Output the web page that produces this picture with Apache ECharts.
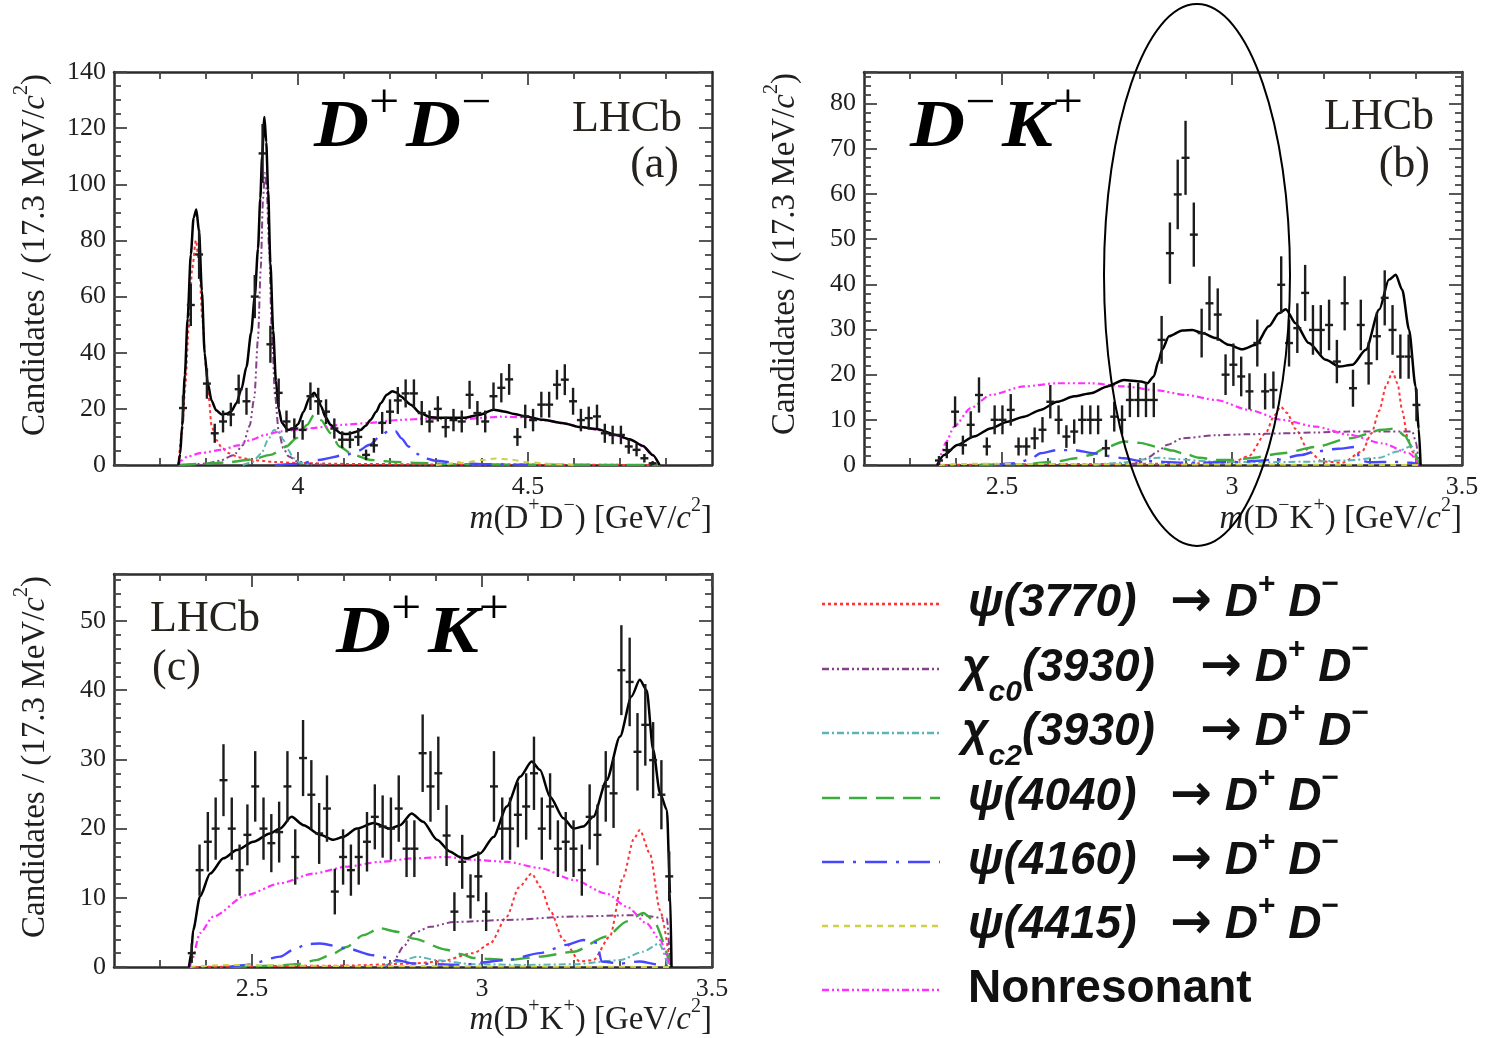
<!DOCTYPE html>
<html>
<head>
<meta charset="utf-8">
<script src="https://cdn.jsdelivr.net/npm/echarts@6/dist/echarts.min.js"></script>
<style>
  html, body { margin: 0; padding: 0; background: #fff; }
  #chart { width: 1499px; height: 1038px; }
</style>
</head>
<body>
<div id="chart"></div>
<script>
// ---- panel (a): m(D+D-) ----
const massA = [3.750, 3.767, 3.785, 3.802, 3.819, 3.837, 3.854, 3.871, 3.888, 3.906, 3.923, 3.940, 3.958, 3.975, 3.992, 4.010, 4.027, 4.044, 4.061, 4.079, 4.096, 4.113, 4.131, 4.148, 4.165, 4.183, 4.200, 4.217, 4.234, 4.252, 4.269, 4.286, 4.304, 4.321, 4.338, 4.356, 4.373, 4.390, 4.407, 4.425, 4.442, 4.459, 4.477, 4.494, 4.511, 4.529, 4.546, 4.563, 4.580, 4.598, 4.615, 4.632, 4.650, 4.667, 4.684, 4.702, 4.719, 4.736, 4.753, 4.771];
const countsA = [20.3, 57, 75, 29, 11.3, 15.5, 18, 27, 22.7, 60, 111, 43, 25.7, 15.5, 13, 12.5, 24.5, 22.7, 19, 13, 9, 9, 10, 3.6, 7, 15, 19, 23, 25.5, 25.5, 18.5, 15.5, 20, 13.5, 16, 15.5, 25, 18.5, 15.5, 24.5, 27.5, 30.5, 10, 17.3, 16, 21.5, 21.5, 28.6, 30.4, 22.7, 16, 16.7, 17.3, 11.3, 10.7, 10.7, 6.6, 5.4, 2.4, 0.6];
const errA = [4.5, 7.5, 8.7, 5.4, 3.4, 3.9, 4.2, 5.2, 4.8, 7.7, 10.5, 6.6, 5.1, 3.9, 3.6, 3.5, 4.9, 4.8, 4.4, 3.6, 3, 3, 3.2, 1.9, 2.6, 3.9, 4.4, 4.8, 5, 5, 4.3, 3.9, 4.5, 3.7, 4, 3.9, 5, 4.3, 3.9, 4.9, 5.2, 5.5, 3.2, 4.2, 4, 4.6, 4.6, 5.3, 5.5, 4.8, 4, 4.1, 4.2, 3.4, 3.3, 3.3, 2.6, 2.3, 1.5, 0.8];
const totalA = [[3.740,0],[3.744,4],[3.748,14],[3.754,32],[3.760,52],[3.767,75],[3.773,88],[3.779,91],[3.785,83],[3.791,62],[3.797,40],[3.804,29],[3.812,23],[3.822,19.5],[3.834,18],[3.845,18.3],[3.855,19.1],[3.866,22],[3.877,27],[3.888,35],[3.898,47],[3.906,60],[3.913,77],[3.918,95],[3.922,110],[3.927,124],[3.931,115],[3.935,98],[3.940,72],[3.946,48],[3.952,30],[3.958,20],[3.965,15],[3.978,12.5],[3.990,13],[4.000,14.5],[4.012,19],[4.025,24],[4.035,25.7],[4.043,24],[4.050,21],[4.060,17],[4.071,14.3],[4.082,12.5],[4.093,11.3],[4.105,11],[4.115,11.3],[4.125,11.8],[4.136,12.5],[4.147,14],[4.158,16.1],[4.170,19],[4.180,22],[4.193,25],[4.205,26.3],[4.214,25.8],[4.223,24.5],[4.245,21.5],[4.266,18.5],[4.288,17],[4.310,16.8],[4.335,16.8],[4.360,16.8],[4.396,17.9],[4.425,19.7],[4.447,19.1],[4.470,18.2],[4.490,17.5],[4.533,16.1],[4.577,14.9],[4.613,13.5],[4.649,12.8],[4.692,10.7],[4.721,9.2],[4.750,6.8],[4.771,3.6],[4.786,0]];
const redA = [[3.740,0],[3.748,12],[3.755,28],[3.762,48],[3.770,70],[3.778,80],[3.785,72],[3.792,52],[3.800,35],[3.806,24],[3.812,14],[3.822,9],[3.835,6],[3.850,4.2],[3.870,2.8],[3.900,1.8],[3.950,1.1],[4.000,0.7],[4.100,0.4],[4.300,0.2],[4.786,0]];
const purpleA = [[3.760,0],[3.800,0.5],[3.830,1.5],[3.860,3.5],[3.880,7],[3.895,14],[3.905,24],[3.913,45],[3.919,70],[3.924,95],[3.928,104],[3.932,98],[3.937,78],[3.943,48],[3.950,25],[3.958,12],[3.968,6],[3.980,3],[4.000,1.2],[4.030,0.4],[4.060,0]];
const tealA = [[3.880,0],[3.900,1],[3.920,4],[3.935,9],[3.948,12.5],[3.958,12],[3.968,9],[3.978,5.5],[3.990,2.5],[4.005,0.8],[4.030,0]];
const greenA = [[3.740,0],[3.800,0.5],[3.850,1],[3.900,2],[3.940,3.6],[3.975,6.6],[3.996,9.5],[4.020,14.3],[4.035,17.9],[4.050,16],[4.071,11.3],[4.090,6.6],[4.120,3.6],[4.158,1.8],[4.200,1.2],[4.260,0.7],[4.350,0.3],[4.500,0.1],[4.786,0]];
const blueA = [[3.950,0],[4.000,0.4],[4.045,1.8],[4.104,3.6],[4.130,5],[4.156,7.2],[4.180,10.5],[4.200,12.5],[4.212,12],[4.225,9.5],[4.240,6.6],[4.258,4],[4.275,2.4],[4.300,1.5],[4.340,0.8],[4.400,0.3],[4.500,0]];
const yellowA = [[4.300,0],[4.360,0.8],[4.400,1.8],[4.430,2.3],[4.460,2],[4.500,1],[4.550,0.4],[4.600,0]];
const magentaA = [[3.740,0],[3.745,1.5],[3.760,3],[3.790,4.3],[3.834,5.4],[3.870,7],[3.898,9],[3.930,10.8],[3.963,12],[4.000,12.6],[4.028,13.1],[4.060,13.6],[4.093,14.3],[4.158,15],[4.224,16.1],[4.281,16.5],[4.330,16.3],[4.360,16.3],[4.400,16.8],[4.440,17.2],[4.490,17],[4.533,16],[4.577,14.9],[4.613,13.5],[4.649,12.6],[4.692,10.5],[4.721,9],[4.750,6.6],[4.771,3.5],[4.786,0]];

// ---- panel (b): m(D-K+) ----
const massB = [2.363, 2.380, 2.398, 2.415, 2.432, 2.450, 2.467, 2.484, 2.501, 2.519, 2.536, 2.553, 2.571, 2.588, 2.605, 2.623, 2.640, 2.657, 2.674, 2.692, 2.709, 2.726, 2.744, 2.761, 2.778, 2.796, 2.813, 2.830, 2.847, 2.865, 2.882, 2.899, 2.917, 2.934, 2.951, 2.969, 2.986, 3.003, 3.020, 3.038, 3.055, 3.072, 3.090, 3.107, 3.124, 3.142, 3.159, 3.176, 3.193, 3.211, 3.228, 3.245, 3.263, 3.280, 3.297, 3.315, 3.332, 3.349, 3.366, 3.384, 3.401];
const countsB = [1, 3.3, 11.8, 4.4, 8.9, 15.5, 4.1, 10, 10, 12.2, 4.1, 4.1, 5.9, 7.8, 14, 10, 6.3, 7.4, 10, 10, 10, 3.7, 10.7, 10, 14.4, 14.4, 14.4, 14.4, 27.7, 46.9, 59.9, 68, 51, 29.2, 35.8, 33.3, 20, 22.2, 19.6, 16.3, 27, 16.3, 16.6, 39.9, 27, 30.3, 38.1, 29.9, 29.9, 31, 22.9, 35.8, 17, 31, 22.5, 28.5, 37, 29.9, 24, 24, 13.3];
const errB = [1, 1.8, 3.4, 2.1, 3, 3.9, 2, 3.2, 3.2, 3.5, 2, 2, 2.4, 2.8, 3.7, 3.2, 2.5, 2.7, 3.2, 3.2, 3.2, 1.9, 3.3, 3.2, 3.8, 3.8, 3.8, 3.8, 5.3, 6.8, 7.7, 8.2, 7.1, 5.4, 6, 5.8, 4.5, 4.7, 4.4, 4, 5.2, 4, 4.1, 6.3, 5.2, 5.5, 6.2, 5.5, 5.5, 5.6, 4.8, 6, 4.1, 5.6, 4.7, 5.3, 6.1, 5.5, 4.9, 4.9, 3.6];
const totalB = [[2.359,0],[2.374,2.2],[2.403,4.4],[2.439,6.3],[2.475,8.1],[2.512,9.6],[2.548,10.7],[2.584,12.2],[2.620,14],[2.657,15.2],[2.693,15.9],[2.729,17.4],[2.765,18.8],[2.802,18.5],[2.816,18.1],[2.830,19.6],[2.840,23],[2.848,25.5],[2.863,28.5],[2.892,29.8],[2.914,29.9],[2.935,29.2],[2.965,28.1],[2.993,26.6],[3.022,25.6],[3.052,26.6],[3.080,30.7],[3.102,33.6],[3.117,34.5],[3.138,31.4],[3.167,27],[3.204,23.3],[3.233,21.8],[3.262,22.2],[3.291,25.5],[3.320,34.4],[3.341,41],[3.356,42.1],[3.370,38.8],[3.385,29.9],[3.399,17.4],[3.406,8],[3.410,0]];
const redB = [[2.363,0],[2.600,0.2],[2.900,0.3],[3.001,0.6],[3.037,2],[3.073,7],[3.092,11],[3.106,12.9],[3.120,11.5],[3.138,8],[3.167,3],[3.196,0.8],[3.240,0.5],[3.283,3],[3.303,7],[3.320,12],[3.335,17.5],[3.349,20.7],[3.360,18],[3.370,12],[3.382,6],[3.392,3],[3.405,0]];
const purpleB = [[2.780,0],[2.800,0.6],[2.820,1.8],[2.838,3],[2.860,4.5],[2.892,5.9],[2.965,6.6],[3.037,6.8],[3.109,7],[3.182,7.2],[3.254,7.4],[3.330,7.4],[3.392,7.4],[3.400,5],[3.406,0]];
const tealB = [[2.700,0],[2.760,0.5],[2.800,1.2],[2.840,1.6],[2.880,1.3],[2.950,0.8],[3.050,0.6],[3.150,0.7],[3.250,1],[3.320,1.6],[3.360,3],[3.390,4.2],[3.405,0]];
const greenB = [[2.450,0],[2.550,0.2],[2.620,0.8],[2.660,1.5],[2.693,2.2],[2.729,4],[2.765,5.2],[2.800,4.9],[2.838,4],[2.870,3.2],[2.893,2.6],[2.930,1.6],[2.965,1.1],[3.000,1.1],[3.037,1.5],[3.110,2.6],[3.182,4],[3.255,5.9],[3.327,7.8],[3.356,8.1],[3.375,6.5],[3.392,4],[3.406,0.3]];
const blueB = [[2.480,0],[2.530,0.4],[2.560,1.2],[2.584,2.6],[2.620,3.3],[2.657,3.3],[2.700,2.6],[2.730,2],[2.765,1.5],[2.800,0.9],[2.900,0.5],[3.000,0.6],[3.100,1.2],[3.150,2.2],[3.182,3],[3.230,3.6],[3.270,4],[3.278,1],[3.300,0.6],[3.350,0.7],[3.390,0.5],[3.406,0]];
const yellowB = [[2.363,0],[2.450,0.3],[2.600,0.2],[3.000,0.1],[3.406,0]];
const magentaB = [[2.363,0],[2.368,2.5],[2.378,5],[2.396,8.5],[2.432,12.6],[2.475,15.5],[2.548,17.4],[2.620,18.1],[2.693,18.1],[2.765,17.4],[2.838,16.5],[2.900,15.5],[2.965,14.4],[3.037,12.2],[3.109,10],[3.182,8.5],[3.254,6.7],[3.327,4.8],[3.385,2.6],[3.407,0]];

// ---- panel (c): m(D+K+) ----
const massC = [2.369, 2.386, 2.404, 2.421, 2.438, 2.456, 2.473, 2.490, 2.507, 2.525, 2.542, 2.559, 2.577, 2.594, 2.611, 2.629, 2.646, 2.663, 2.680, 2.698, 2.715, 2.732, 2.750, 2.767, 2.784, 2.802, 2.819, 2.836, 2.853, 2.871, 2.888, 2.905, 2.923, 2.940, 2.957, 2.975, 2.992, 3.009, 3.026, 3.044, 3.061, 3.078, 3.096, 3.113, 3.130, 3.148, 3.165, 3.182, 3.199, 3.217, 3.234, 3.251, 3.269, 3.286, 3.303, 3.321, 3.338, 3.355, 3.372, 3.390, 3.407];
const countsC = [2, 14, 18.1, 20, 27, 20, 14, 19.1, 26.1, 20, 17.9, 19.5, 26.1, 15.9, 30.2, 24.9, 19.3, 22.9, 10.9, 15.9, 14, 15.9, 18.1, 21.7, 20.3, 20, 22.9, 17.1, 17.1, 30.9, 26.1, 28, 19, 8, 15.2, 10.2, 13.1, 8, 26.1, 20, 20, 22, 23.2, 28, 20, 23.2, 17.1, 18.1, 17.1, 14, 21.7, 19.1, 26.1, 25.1, 42.9, 41.2, 31.1, 35, 29.9, 24.9, 13.1];
const errC = [1.4, 3.7, 4.3, 4.5, 5.2, 4.5, 3.7, 4.4, 5.1, 4.5, 4.2, 4.4, 5.1, 4, 5.5, 5, 4.4, 4.8, 3.3, 4, 3.7, 4, 4.3, 4.7, 4.5, 4.5, 4.8, 4.1, 4.1, 5.6, 5.1, 5.3, 4.4, 2.8, 3.9, 3.2, 3.6, 2.8, 5.1, 4.5, 4.5, 4.7, 4.8, 5.3, 4.5, 4.8, 4.1, 4.3, 4.1, 3.7, 4.7, 4.4, 5.1, 5, 6.5, 6.4, 5.6, 5.9, 5.5, 5, 3.6];
const totalC = [[2.363,0],[2.368,2],[2.372,5.3],[2.387,10.2],[2.409,13.5],[2.438,15.7],[2.467,16.9],[2.503,18.1],[2.539,19.3],[2.561,20],[2.586,21.7],[2.612,20.5],[2.648,19.1],[2.677,18.4],[2.698,18.8],[2.728,20],[2.764,20.8],[2.800,20],[2.822,20.5],[2.847,22.2],[2.872,21],[2.902,18.4],[2.930,16.7],[2.952,15.9],[2.967,15.7],[2.996,16.4],[3.025,18.8],[3.054,23.2],[3.083,27.5],[3.108,29.7],[3.126,28.5],[3.148,24.6],[3.177,21.5],[3.199,20],[3.220,20.3],[3.242,21.7],[3.271,27],[3.300,33.3],[3.325,39.1],[3.343,41.5],[3.358,40],[3.372,31.4],[3.387,25.1],[3.402,22.7],[3.409,10.6],[3.412,0]];
const redC = [[2.365,0],[2.700,0.2],[2.850,0.5],[2.909,0.8],[2.981,2],[3.018,3.4],[3.054,7.3],[3.080,11.5],[3.108,13.5],[3.128,11.5],[3.148,8.2],[3.177,3.9],[3.213,0.8],[3.242,1],[3.278,4.4],[3.307,13],[3.330,18.5],[3.343,19.8],[3.365,16.4],[3.387,8.2],[3.409,0.5]];
const purpleC = [[2.790,0],[2.807,0.8],[2.830,3],[2.851,4.9],[2.887,5.8],[2.938,6.5],[3.054,6.8],[3.199,7.3],[3.343,7.5],[3.402,7],[3.409,0]];
const tealC = [[2.780,0],[2.820,0.8],[2.860,1.5],[2.900,1],[2.980,0.4],[3.100,0.3],[3.200,0.4],[3.300,1],[3.350,2.2],[3.385,3.4],[3.405,0]];
const greenC = [[2.450,0],[2.550,0.2],[2.597,0.4],[2.640,1],[2.670,1.7],[2.706,2.9],[2.742,4.6],[2.778,5.6],[2.815,5.1],[2.851,4.1],[2.923,2.5],[2.952,1.9],[2.981,1.3],[3.054,1],[3.126,1.5],[3.199,2.2],[3.271,4.4],[3.315,6.6],[3.351,7.8],[3.372,6.8],[3.409,0.3]];
const blueC = [[2.450,0],[2.488,0.3],[2.561,1.5],[2.590,2.5],[2.619,3.3],[2.648,3.4],[2.706,2.7],[2.764,1.7],[2.815,1],[2.851,0.5],[2.950,0.3],[3.054,1],[3.126,2],[3.184,3.2],[3.220,3.9],[3.250,3.5],[3.260,0.8],[3.300,0.5],[3.343,0.8],[3.380,0.4],[3.409,0]];
const yellowC = [[2.365,0],[2.450,0.3],[2.550,0.2],[2.800,0.1],[3.409,0]];
const magentaC = [[2.365,0],[2.369,1],[2.387,4.9],[2.416,7.3],[2.488,10.4],[2.561,12.1],[2.633,13.5],[2.706,14.5],[2.778,15.2],[2.851,15.7],[2.923,15.9],[2.981,15.5],[3.054,15.2],[3.126,14.3],[3.199,12.6],[3.271,10.6],[3.315,8.7],[3.358,6.3],[3.387,3.9],[3.409,0.5],[3.412,0]];

// axis ticks
const xMajorA = [4, 4.5];
const xMinorA = [3.7, 3.8, 3.9, 4.1, 4.2, 4.3, 4.4, 4.6, 4.7, 4.8];
const xMajorBC = [2.5, 3, 3.5];
const xMinorBC = [2.3, 2.4, 2.6, 2.7, 2.8, 2.9, 3.1, 3.2, 3.3, 3.4];

// legend texts (order matches the component curves)
const legendLeft = ['{t|ψ(3770)}', '{t|χ}{b|c0}{t|(3930)}', '{t|χ}{b|c2}{t|(3930)}', '{t|ψ(4040)}', '{t|ψ(4160)}', '{t|ψ(4415)}', '{n|Nonresonant}'];

// styles of the components: ψ(3770), χc0, χc2, ψ(4040), ψ(4160), ψ(4415), nonresonant
const compColors = ['#ff3535', '#86408c', '#5db4b4', '#3cac3c', '#4646ff', '#d0d045', '#ff30ff'];
const compDash = [[3, 3], [7, 3, 2, 3, 2, 3], [7, 3, 2, 3], [18, 9], [22, 9, 3, 9], [6, 5], [7, 3, 2, 3, 2, 3]];
const compWidth = [2, 2, 2, 2.4, 2.4, 2, 2.2];

const serif = '"Liberation Serif", "Times New Roman", serif';
const sans = '"Liberation Sans", Arial, sans-serif';
const ink = '#1f1f1f';

const chart = echarts.init(document.getElementById('chart'));

const frameLine = { show: true, onZero: false, lineStyle: { color: '#2b2b2b', width: 2.5 } };
const noLine = { show: false, onZero: false };
const tickStyle = { color: '#454545', width: 1.8 };
const labelStyle = { color: ink, fontFamily: serif, fontSize: 26 };

function xAxesFor(g, min, max, major, minor) {
  const base = { type: 'value', gridIndex: g, min: min, max: max, splitLine: { show: false } };
  const big = { inside: true, length: 13, customValues: major, lineStyle: tickStyle };
  const small = { inside: true, length: 7, customValues: minor, lineStyle: tickStyle };
  return [
    Object.assign({}, base, { position: 'bottom', axisLine: frameLine, axisTick: big,
      axisLabel: Object.assign({ customValues: major, margin: 9 }, labelStyle) }),
    Object.assign({}, base, { position: 'bottom', axisLine: noLine, axisTick: small, axisLabel: { show: false } }),
    Object.assign({}, base, { position: 'top', axisLine: frameLine, axisTick: big, axisLabel: { show: false } }),
    Object.assign({}, base, { position: 'top', axisLine: noLine, axisTick: small, axisLabel: { show: false } })
  ];
}

function yAxesFor(g, max, interval, split, showMax) {
  const base = { type: 'value', gridIndex: g, min: 0, max: max, interval: interval, splitLine: { show: false } };
  const tick = { inside: true, length: 13, lineStyle: tickStyle };
  const minor = { show: true, splitNumber: split, length: 7, lineStyle: tickStyle };
  return [
    Object.assign({}, base, { position: 'left', axisLine: frameLine, axisTick: tick, minorTick: minor,
      axisLabel: Object.assign({ margin: 8, showMaxLabel: showMax }, labelStyle) }),
    Object.assign({}, base, { position: 'right', axisLine: frameLine, axisTick: tick, minorTick: minor, axisLabel: { show: false } })
  ];
}

function panelSeries(g, comps, total, mass, counts, errs) {
  const xi = 4 * g, yi = 2 * g;
  const out = comps.map((d, i) => ({
    type: 'line', xAxisIndex: xi, yAxisIndex: yi, data: d, showSymbol: false, silent: true,
    smooth: 0.25, smoothMonotone: 'x', z: 2,
    lineStyle: { color: compColors[i], width: compWidth[i], type: compDash[i] }
  }));
  out.push({
    type: 'line', xAxisIndex: xi, yAxisIndex: yi, data: total, showSymbol: false, silent: true,
    smooth: 0.25, smoothMonotone: 'x', z: 3, lineStyle: { color: '#000', width: 2.5 }
  });
  // data points: bin-width horizontal bar + vertical error bar
  out.push({
    type: 'custom', xAxisIndex: xi, yAxisIndex: yi, z: 4, silent: true, clip: true,
    data: mass.map((m, i) => [m, counts[i], errs[i]]),
    encode: { x: 0, y: 1 },
    renderItem: function (params, api) {
      const x = api.value(0), y = api.value(1), e = api.value(2);
      const c = api.coord([x, y]);
      const top = api.coord([x, y + e]);
      const bot = api.coord([x, Math.max(y - e, 0)]);
      const hw = api.size([0.0173, 0])[0] / 2;
      const st = { stroke: '#1c1c1c', lineWidth: 2.4 };
      return {
        type: 'group', children: [
          { type: 'line', shape: { x1: c[0], y1: top[1], x2: c[0], y2: bot[1] }, style: st },
          { type: 'line', shape: { x1: c[0] - hw, y1: c[1], x2: c[0] + hw, y2: c[1] }, style: st }
        ]
      };
    }
  });
  return out;
}

function txt(x, y, text, base, rich, extra) {
  return Object.assign({
    type: 'text', x: x, y: y, z: 50, silent: true,
    style: Object.assign({ text: text, fill: ink, rich: rich || {} }, base)
  }, extra || {});
}

const titleRich = {
  i: { fontFamily: serif, fontStyle: 'italic', fontSize: 33, fill: ink },
  s: { fontFamily: serif, fontSize: 20, fill: ink, verticalAlign: 'top' }
};
const yTitleBase = { fontFamily: serif, fontSize: 33, lineHeight: 46, align: 'center', verticalAlign: 'middle' };
const xTitleBase = { fontFamily: serif, fontSize: 33, lineHeight: 46, align: 'right', verticalAlign: 'middle' };
const yTitleText = 'Candidates / (17.3 MeV/{i|c}{s|2})';

const bigRich = {
  d: { fontFamily: serif, fontStyle: 'italic', fontWeight: 'bold', fontSize: 68, fill: '#000' },
  s: { fontFamily: serif, fontSize: 48, fill: '#000', verticalAlign: 'top', padding: [0, 6, 0, 0] }
};
const bigBase = { fontFamily: serif, fontSize: 68, lineHeight: 96, align: 'left', verticalAlign: 'middle' };
const bigScale = { scaleX: 1.12 };
const lhcbBase = (al) => ({ fontFamily: serif, fontSize: 44, fill: '#25211c', align: al, verticalAlign: 'middle' });

const legRich = {
  t: { fontFamily: sans, fontStyle: 'italic', fontWeight: 'bold', fontSize: 46, fill: '#111' },
  b: { fontFamily: sans, fontStyle: 'italic', fontWeight: 'bold', fontSize: 30, fill: '#111', verticalAlign: 'bottom' },
  n: { fontFamily: sans, fontWeight: 'bold', fontSize: 46, fill: '#111' },
  a: { fontFamily: '"DejaVu Sans", sans-serif', fontWeight: 'bold', fontSize: 50, fill: '#111' },
  p: { fontFamily: sans, fontWeight: 'bold', fontSize: 30, fill: '#111', verticalAlign: 'top' }
};
const legRowY = [604, 669, 733, 798, 862, 926, 990];

const graphics = [
  txt(35, 255, yTitleText, yTitleBase, titleRich, { rotation: Math.PI / 2 }),
  txt(785, 254, yTitleText, yTitleBase, titleRich, { rotation: Math.PI / 2 }),
  txt(35, 757, yTitleText, yTitleBase, titleRich, { rotation: Math.PI / 2 }),
  txt(712, 519, '{i|m}(D{s|+}D{s|−}) [GeV/{i|c}{s|2}]', xTitleBase, titleRich),
  txt(1462, 519, '{i|m}(D{s|−}K{s|+}) [GeV/{i|c}{s|2}]', xTitleBase, titleRich),
  txt(712, 1020, '{i|m}(D{s|+}K{s|+}) [GeV/{i|c}{s|2}]', xTitleBase, titleRich),
  txt(314, 128, '{d|D}{s|+}{d|D}{s|−}', bigBase, bigRich, bigScale),
  txt(910, 128, '{d|D}{s|−}{d|K}{s|+}', bigBase, bigRich, bigScale),
  txt(336, 634, '{d|D}{s|+}{d|K}{s|+}', bigBase, bigRich, bigScale),
  txt(682, 119, 'LHCb', lhcbBase('right')),
  txt(679, 165, '(a)', lhcbBase('right')),
  txt(1434, 117, 'LHCb', lhcbBase('right')),
  txt(1430, 165, '(b)', lhcbBase('right')),
  txt(150, 619, 'LHCb', lhcbBase('left')),
  txt(152, 668, '(c)', lhcbBase('left')),
  {
    type: 'ellipse', z: 100, silent: true,
    shape: { cx: 1197, cy: 275, rx: 93, ry: 271 },
    style: { fill: 'none', stroke: '#000', lineWidth: 2 }
  }
];

legendLeft.forEach((label, i) => {
  const y = legRowY[i];
  const isChi = label.indexOf('χ') >= 0;
  graphics.push({
    type: 'line', z: 50, silent: true,
    shape: { x1: 822, y1: y, x2: 940, y2: y },
    style: { stroke: compColors[i], lineWidth: 2.6, lineDash: compDash[i] }
  });
  graphics.push(txt(isChi ? 962 : 968, y - 1, label,
    { fontFamily: sans, fontSize: 46, lineHeight: isChi ? 80 : 66, align: 'left', verticalAlign: 'middle' }, legRich));
  if (i < 6) {
    graphics.push(txt(isChi ? 1200 : 1170, y - 1, '{a|→} {t|D}{p|+} {t|D}{p|−}',
      { fontFamily: sans, fontSize: 46, lineHeight: 66, align: 'left', verticalAlign: 'middle' }, legRich));
  }
});

const option = {
  backgroundColor: '#ffffff',
  animation: false,
  grid: [
    { left: 114, top: 72, width: 598, height: 393 },
    { left: 864, top: 72, width: 598, height: 393 },
    { left: 114, top: 574, width: 598, height: 393 }
  ],
  xAxis: [].concat(
    xAxesFor(0, 3.6, 4.9, xMajorA, xMinorA),
    xAxesFor(1, 2.2, 3.5, xMajorBC, xMinorBC),
    xAxesFor(2, 2.2, 3.5, xMajorBC, xMinorBC)
  ),
  yAxis: [].concat(
    yAxesFor(0, 140, 20, 4, true),
    yAxesFor(1, 87, 10, 5, false),
    yAxesFor(2, 56.8, 10, 5, false)
  ),
  series: [].concat(
    panelSeries(0, [redA, purpleA, tealA, greenA, blueA, yellowA, magentaA], totalA, massA, countsA, errA),
    panelSeries(1, [redB, purpleB, tealB, greenB, blueB, yellowB, magentaB], totalB, massB, countsB, errB),
    panelSeries(2, [redC, purpleC, tealC, greenC, blueC, yellowC, magentaC], totalC, massC, countsC, errC)
  ),
  graphic: graphics
};

chart.setOption(option);
</script>
</body>
</html>
